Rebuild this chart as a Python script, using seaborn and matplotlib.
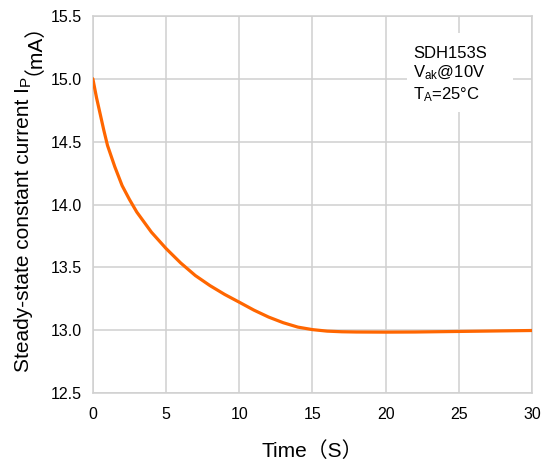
import pandas as pd
import matplotlib
matplotlib.use("Agg")
import matplotlib.pyplot as plt
from matplotlib.patches import Rectangle
import seaborn as sns

# values
time_s = [0, 0.25, 0.5, 0.75, 1, 1.5, 2, 2.5, 3, 4, 5, 6, 7, 8, 9, 10, 11, 12, 13, 14, 15,
          16, 17, 18, 20, 22, 24, 26, 28, 30]
current_ma = [15.0, 14.85, 14.72, 14.59, 14.47, 14.30, 14.15, 14.04, 13.94, 13.78, 13.65, 13.535,
              13.435, 13.355, 13.285, 13.223, 13.16, 13.105, 13.06, 13.025, 13.005,
              12.993, 12.988, 12.986, 12.985, 12.986, 12.989, 12.992, 12.995, 12.998]

x_ticks = [0, 5, 10, 15, 20, 25, 30]
y_ticks = [12.5, 13.0, 13.5, 14.0, 14.5, 15.0, 15.5]

sns.set_style("white")
plt.rcParams['font.family'] = ['Liberation Sans', 'Noto Sans CJK SC', 'DejaVu Sans']
plt.rcParams['mathtext.fontset'] = 'custom'
plt.rcParams['mathtext.rm'] = 'Liberation Sans'
plt.rcParams['mathtext.it'] = 'Liberation Sans'
plt.rcParams['text.color'] = 'black'
plt.rcParams['axes.labelcolor'] = 'black'

df = pd.DataFrame({"Time": time_s, "Current": current_ma})

W, H = 543, 468
fig = plt.figure(figsize=(W / 100, H / 100), dpi=100)
ax = fig.add_axes([0.171, 0.160, 0.809, 0.806])

grid_col = "#d0d0d0"
sns.lineplot(data=df, x="Time", y="Current", color="#ff6600", linewidth=2.3, ax=ax, zorder=3)

ax.set_xlim(0, 30)
ax.set_ylim(12.5, 15.5)
ax.set_xticks(x_ticks)
ax.set_xticklabels([str(t) for t in x_ticks])
ax.set_yticks(y_ticks)
ax.set_yticklabels([f"{v:.1f}" for v in y_ticks])
ax.grid(True, color=grid_col, linewidth=1.1)
for s in ax.spines.values():
    s.set_color(grid_col)
    s.set_linewidth(1.1)
ax.tick_params(axis="both", length=0, labelsize=11.5, colors="black")
ax.tick_params(axis="x", pad=10)
ax.tick_params(axis="y", pad=8)

ax.set_xlabel("Time（S）", fontsize=15, labelpad=14)
ax.set_ylabel("")

# y label built from pieces so the subscript and full-width brackets both render
fig.canvas.draw()
rend = fig.canvas.get_renderer()
x_base = 29 / W
kw = dict(rotation=90, rotation_mode="anchor", ha="left", va="baseline")
t1 = fig.text(x_base, (H - 372) / H, "Steady-state constant current I", fontsize=15,
              family="Liberation Sans", **kw)
top = t1.get_window_extent(rend).y1
t2 = fig.text(x_base + 1 / W, (top + 1.5) / H, "P", fontsize=11, family="Liberation Sans", **kw)
top = t2.get_window_extent(rend).y1
fig.text(x_base, (top + 0.5) / H, "（mA）", fontsize=15,
         family=['Liberation Sans', 'Noto Sans CJK SC'], **kw)

# white panel behind the annotation (hides the grid there)
ax.add_patch(Rectangle((0.715, 0.745), 0.242, 0.21, transform=ax.transAxes,
                       facecolor="white", edgecolor="none", zorder=2.5))
ax.text(0.729, 0.92, "SDH153S\n" + r"V$_\mathregular{ak}$@10V" + "\n" + r"T$_\mathregular{A}$=25°C",
        transform=ax.transAxes, ha="left", va="top", fontsize=12, linespacing=1.2, zorder=4,
        family="Liberation Sans")

fig.savefig("out.png", dpi=100)
